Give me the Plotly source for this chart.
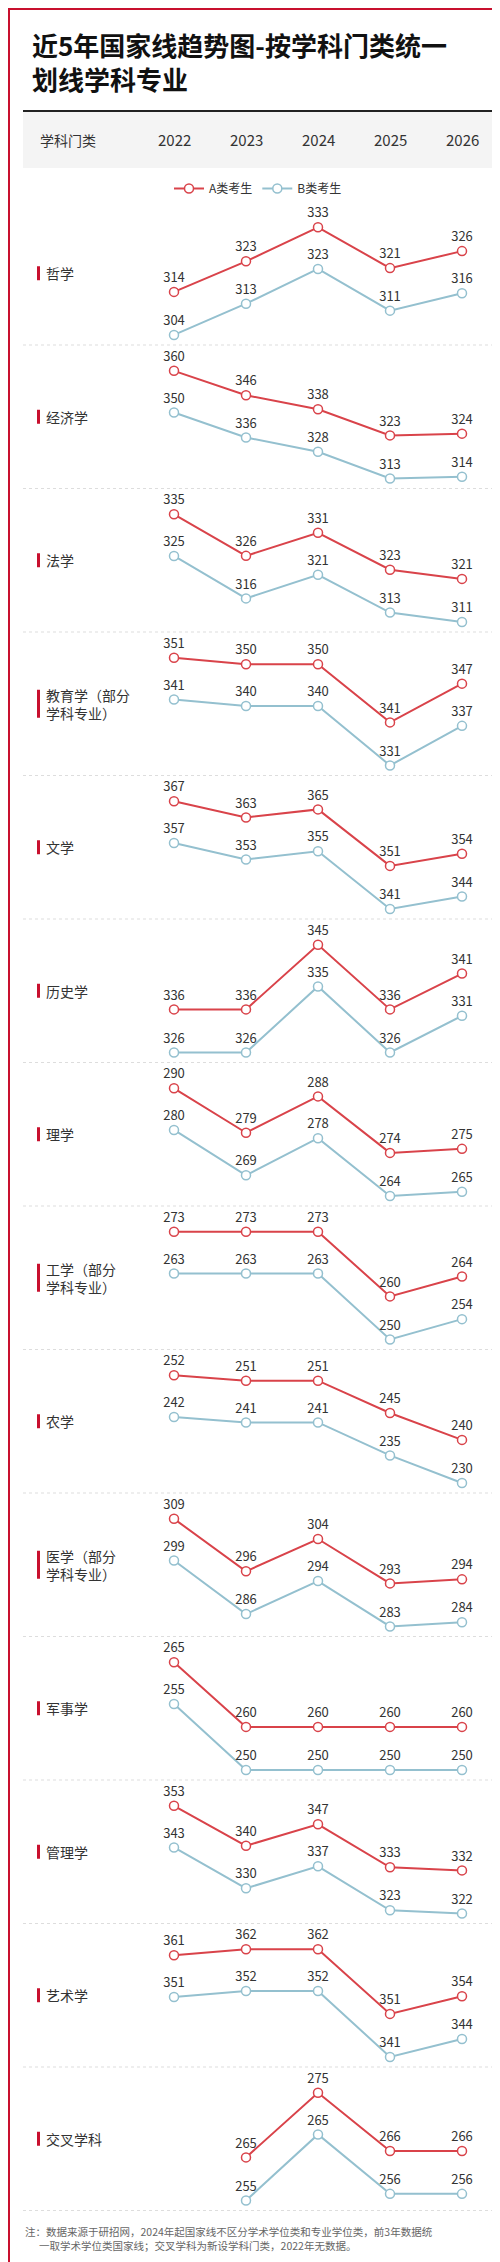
import plotly.graph_objects as go

W, H = 500, 2262

years = [2022, 2023, 2024, 2025, 2026]
subjects = ["哲学", "经济学", "法学", "教育学（部分<br>学科专业）", "文学", "历史学", "理学",
            "工学（部分<br>学科专业）", "农学", "医学（部分<br>学科专业）", "军事学", "管理学",
            "艺术学", "交叉学科"]
score_a = [
    [314, 323, 333, 321, 326],
    [360, 346, 338, 323, 324],
    [335, 326, 331, 323, 321],
    [351, 350, 350, 341, 347],
    [367, 363, 365, 351, 354],
    [336, 336, 345, 336, 341],
    [290, 279, 288, 274, 275],
    [273, 273, 273, 260, 264],
    [252, 251, 251, 245, 240],
    [309, 296, 304, 293, 294],
    [265, 260, 260, 260, 260],
    [353, 340, 347, 333, 332],
    [361, 362, 362, 351, 354],
    [None, 265, 275, 266, 266],
]
score_b = [
    [304, 313, 323, 311, 316],
    [350, 336, 328, 313, 314],
    [325, 316, 321, 313, 311],
    [341, 340, 340, 331, 337],
    [357, 353, 355, 341, 344],
    [326, 326, 335, 326, 331],
    [280, 269, 278, 264, 265],
    [263, 263, 263, 250, 254],
    [242, 241, 241, 235, 230],
    [299, 286, 294, 283, 284],
    [255, 250, 250, 250, 250],
    [343, 330, 337, 323, 322],
    [351, 352, 352, 341, 344],
    [None, 255, 265, 256, 256],
]

RED = "#d9434a"
BLUE = "#94c0cf"
TOP0, STEP = 193.5, 143.5


def py(px):
    return 1 - px / H


def axis_range(vals, f_lo, f_hi):
    v = [x for x in vals if x is not None]
    span = (max(v) - min(v)) / (f_hi - f_lo)
    lo = min(v) - f_lo * span
    return [lo, lo + span]


fig = go.Figure()
layout = {}
shapes, annos = [], []

for k, name in enumerate(subjects):
    top = TOP0 + STEP * k
    dom = [py(top + STEP), py(top)]
    ya, yb = 2 * k + 1, 2 * k + 2
    for n, vals, col, lab, f in [(ya, score_a[k], RED, "A类考生", (0.37, 0.82)),
                                 (yb, score_b[k], BLUE, "B类考生", (0.07, 0.53))]:
        key = "yaxis" if n == 1 else "yaxis%d" % n
        layout[key] = dict(domain=dom, range=axis_range(vals, *f), visible=False,
                           fixedrange=True, anchor="x")
        if n == yb:
            layout[key]["overlaying"] = "y" if ya == 1 else "y%d" % ya
        fig.add_trace(go.Scatter(
            x=years, y=vals, yaxis="y" if n == 1 else "y%d" % n,
            mode="lines+markers+text", name=lab, showlegend=(k == 0),
            line=dict(color=col, width=2),
            marker=dict(size=9, color="white", line=dict(color=col, width=1.5)),
            text=[("" if v is None else str(v)) for v in vals],
            textposition="top center", textfont=dict(size=13, color="#333"),
            cliponaxis=False))
    # label with red bar
    mid = top + STEP / 2
    nlines = name.count("<br>") + 1
    shapes.append(dict(type="rect", xref="paper", yref="paper", x0=29 / W, x1=32 / W,
                       y0=py(mid + 7 * nlines), y1=py(mid - 7 * nlines),
                       fillcolor="#c8102e", line_width=0))
    annos.append(dict(text=name, x=36 / W, y=py(mid), xref="paper", yref="paper",
                      xanchor="left", yanchor="middle", showarrow=False, align="left",
                      font=dict(size=14, color="#333")))
    # dotted separator
    shapes.append(dict(type="line", xref="paper", yref="paper", x0=15 / W, x1=485 / W,
                       y0=py(top + STEP), y1=py(top + STEP),
                       line=dict(color="#ddd", width=1, dash="dot")))

# header band
shapes.append(dict(type="rect", xref="paper", yref="paper", x0=15 / W, x1=485 / W,
                   y0=py(160), y1=py(103), fillcolor="#f4f4f4", line_width=0, layer="below"))
shapes.append(dict(type="line", xref="paper", yref="paper", x0=15 / W, x1=485 / W,
                   y0=py(103), y1=py(103), line=dict(color="#222", width=2)))
# outer red border
shapes.append(dict(type="rect", xref="paper", yref="paper", x0=1 / W, x1=1 - 1 / W,
                   y0=1 / H, y1=1 - 1 / H, line=dict(color="#c8102e", width=2)))

annos.append(dict(text="<b>近5年国家线趋势图-按学科门类统一<br>划线学科专业</b>", x=22 / W,
                  y=py(16), xref="paper", yref="paper", xanchor="left", yanchor="top",
                  showarrow=False, align="left", font=dict(size=26, color="#111")))
annos.append(dict(text="学科门类", x=60 / W, y=py(132), xref="paper", yref="paper",
                  xanchor="center", yanchor="middle", showarrow=False,
                  font=dict(size=14, color="#333")))
for yr in years:
    annos.append(dict(text=str(yr), x=yr, y=py(132), xref="x", yref="paper",
                      yanchor="middle", showarrow=False, font=dict(size=15, color="#333")))
annos.append(dict(text="注：数据来源于研招网，2024年起国家线不区分学术学位类和专业学位类，前3年数据统<br>"
                       "      一取学术学位类国家线；交叉学科为新设学科门类，2022年无数据。",
                  x=15 / W, y=py(2214), xref="paper", yref="paper", xanchor="left",
                  yanchor="top", showarrow=False, align="left",
                  font=dict(size=10.5, color="#666")))

fig.update_layout(
    width=W, height=H, margin=dict(l=0, r=0, t=0, b=0),
    paper_bgcolor="white", plot_bgcolor="rgba(0,0,0,0)",
    font=dict(family="Noto Sans CJK SC"),
    xaxis=dict(range=[2022 - 166 / 72, 2022 + 334 / 72], visible=False, fixedrange=True),
    legend=dict(orientation="h", x=0.5, xanchor="center", y=py(166), yanchor="top",
                font=dict(size=12, color="#333"), bgcolor="rgba(0,0,0,0)"),
    shapes=shapes, annotations=annos, **layout)

fig.write_html("out.html")
